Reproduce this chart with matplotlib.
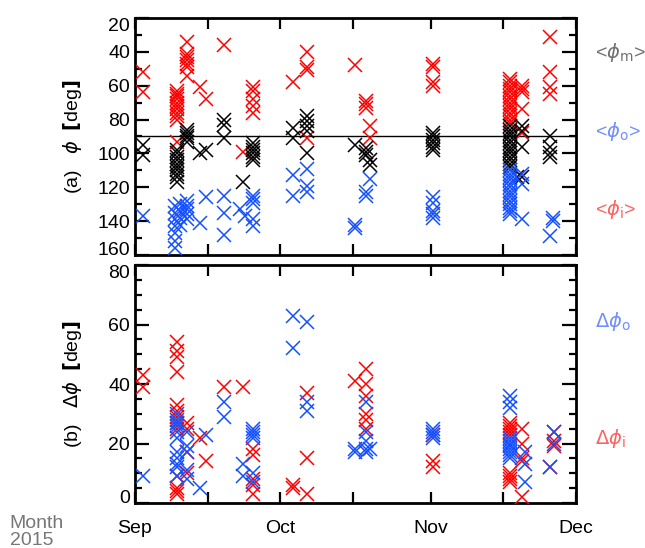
import matplotlib.pyplot as plt
import matplotlib.dates as mdates
from matplotlib.ticker import MultipleLocator
from datetime import datetime

plt.rcParams['font.family'] = ['Liberation Sans', 'DejaVu Sans']
plt.rcParams['mathtext.fontset'] = 'dejavusans'

# (days since 2015-09-01, values) per observation time
phi_i = [(1.6, [52, 64]),
         (8.7, [63, 65, 66, 68, 70, 72, 74, 76, 78, 80, 93]),
         (10.7, [34, 41, 43, 45, 47, 49, 54]),
         (13.4, [61]), (14.6, [68]), (18.4, [36]), (22.3, [99]),
         (24.4, [61, 63, 68, 72, 76]),
         (32.6, [58]), (35.5, [40, 49, 51, 91]), (45.4, [48]),
         (47.7, [69, 71, 73]), (48.5, [84, 91]),
         (61.5, [47, 49, 58, 60]),
         (77.4, [56, 58, 60, 62, 64, 66, 68, 70, 72, 74, 76, 78, 80, 82]),
         (79.9, [60, 62, 64, 74, 88]),
         (85.6, [31, 52, 61, 65])]

phi_m = [(1.6, [95, 101]),
         (8.7, [98, 100, 102, 104, 106, 108, 110, 112, 114, 117]),
         (10.7, [86, 88, 90, 91, 93]),
         (13.4, [100]), (14.6, [98]), (18.4, [80, 83, 91]), (22.3, [117]),
         (24.4, [94, 96, 98, 100, 102, 104]),
         (32.6, [85, 91]), (35.5, [78, 81, 84, 87, 100]), (45.4, [95]),
         (47.7, [97, 99, 101]), (48.5, [104, 107]),
         (61.5, [88, 90, 92, 94, 96, 98]),
         (77.4, [84, 86, 88, 90, 92, 94, 96, 98, 100, 102, 104, 106, 108]),
         (78.9, [114]),
         (79.9, [84, 87, 96, 114]),
         (85.6, [90, 96, 100, 102])]

phi_o = [(1.6, [137]),
         (8.3, [131, 135, 139, 143, 147, 152, 156]),
         (9.3, [130, 134, 138, 142]),
         (10.7, [128, 131, 133, 136, 139]),
         (13.4, [141]), (14.6, [126]), (18.4, [125, 135, 148]),
         (21.7, [133]), (22.7, [137]),
         (24.4, [125, 127, 129, 139, 143]),
         (32.6, [113, 125]), (35.5, [109, 119, 123]), (45.4, [142, 144]),
         (47.7, [123, 125]), (48.5, [115]),
         (61.5, [126, 129, 134, 136, 138]),
         (77.4, [110, 112, 114, 116, 118, 120, 122, 124, 126, 128, 130, 132, 134, 136]),
         (79.9, [112, 118, 139]),
         (85.6, [149]), (86.3, [138, 140])]

dphi_i = [(1.6, [43, 39]),
          (8.7, [54, 51, 49, 44, 33, 31, 29, 27, 25, 9, 5, 4, 3]),
          (10.7, [27, 25, 17, 10]),
          (13.4, [22]), (14.6, [14]), (18.4, [39]), (22.3, [39]),
          (24.4, [18, 16, 8, 6, 3]),
          (32.6, [6, 5]), (35.5, [37, 15, 3]), (45.4, [41]),
          (47.7, [45, 40, 36, 30, 28, 25]),
          (61.5, [23, 14, 12]),
          (77.4, [27, 26, 25, 24, 23, 10, 9, 8, 7]),
          (79.9, [25, 20, 15, 14, 2]),
          (85.6, [12]), (86.5, [24, 21, 19])]

dphi_o = [(1.6, [9]),
          (8.7, [30, 28, 27, 26, 24, 22, 17, 15, 13, 12, 9]),
          (10.7, [24, 19, 17, 11, 8]),
          (13.4, [5]), (14.6, [23]), (18.4, [34, 29]), (22.3, [13, 9]),
          (24.4, [25, 24, 23, 22, 10, 7]),
          (32.6, [63, 52]), (35.5, [61, 34, 31]), (45.4, [18, 17]),
          (47.7, [34, 24, 21, 18, 17]), (48.5, [18]),
          (61.5, [25, 24, 23, 22]),
          (77.4, [36, 34, 32, 22, 21, 20, 19, 18, 17, 16, 15]),
          (80.5, [17, 13, 7]),
          (85.6, [12]), (86.5, [24, 20])]

t0 = mdates.date2num(datetime(2015, 9, 1))
t1 = mdates.date2num(datetime(2015, 12, 1))

RED = '#ff0000'
BLUE = '#1450ff'


def expand(groups):
    x, y = [], []
    for d, vals in groups:
        x += [t0 + d] * len(vals)
        y += vals
    return x, y


def cross(ax, groups, color):
    x, y = expand(groups)
    ax.plot(x, y, 'x', ms=9.5, mew=1.1, color=color, zorder=3)


def style(ax, ymaj, ymin):
    ax.set_xlim(t0, t1)
    ax.xaxis.set_major_locator(mdates.MonthLocator())
    ax.xaxis.set_minor_locator(mdates.DayLocator(bymonthday=16))
    ax.xaxis.set_major_formatter(mdates.DateFormatter('%b'))
    ax.yaxis.set_major_locator(MultipleLocator(ymaj))
    ax.yaxis.set_minor_locator(MultipleLocator(ymin))
    ax.tick_params(which='both', direction='in', top=True, right=True,
                   width=1.6, labelsize=14)
    ax.tick_params(which='major', length=10)
    ax.tick_params(which='minor', length=5)
    ax.tick_params(axis='x', which='both', length=8, pad=12)
    for s in ax.spines.values():
        s.set_linewidth(2)


def pull_in_edge_labels(ax, top_val, bottom_val):
    # keep the end labels inside the panel so neighbouring panels don't clash
    for tick in ax.yaxis.get_major_ticks():
        if abs(tick.get_loc() - top_val) < 1e-6:
            tick.label1.set_va('center_baseline')
            tick.label1.set_va('top')
        elif abs(tick.get_loc() - bottom_val) < 1e-6:
            tick.label1.set_va('baseline')


fig = plt.figure(figsize=(6.45, 5.48), dpi=100)
ax1 = fig.add_axes([0.2093, 0.5347, 0.6837, 0.4325])
ax2 = fig.add_axes([0.2093, 0.0821, 0.6837, 0.4343])

# (a) mean angles
cross(ax1, phi_i, RED)
cross(ax1, phi_m, 'black')
cross(ax1, phi_o, BLUE)
ax1.axhline(90, color='black', lw=1, zorder=2)
style(ax1, 20, 10)
ax1.set_ylim(160, 20)
ax1.tick_params(axis='x', labelbottom=False)

# (b) angle spread
cross(ax2, dphi_i, RED)
cross(ax2, dphi_o, BLUE)
style(ax2, 20, 5)
ax2.set_ylim(0, 80)

fig.text(0.112, 0.751, r'(a)   $\phi$  $\mathbf{[}$deg$\mathbf{]}$', rotation=90,
         ha='center', va='center', fontsize=14)
fig.text(0.112, 0.299, r'(b)   $\Delta\phi$  $\mathbf{[}$deg$\mathbf{]}$', rotation=90,
         ha='center', va='center', fontsize=14)

fig.text(0.922, 0.905, r'<$\phi_{\rm m}$>', color='#707070', fontsize=14, va='center')
fig.text(0.922, 0.760, r'<$\phi_{\rm o}$>', color='#6f8fff', fontsize=14, va='center')
fig.text(0.922, 0.617, r'<$\phi_{\rm i}$>', color='#ff6060', fontsize=14, va='center')
fig.text(0.922, 0.413, r'$\Delta\phi_{\rm o}$', color='#6f8fff', fontsize=14, va='center')
fig.text(0.922, 0.200, r'$\Delta\phi_{\rm i}$', color='#ff6060', fontsize=14, va='center')

fig.text(0.015, 0.029, 'Month\n2015', color='#777777', fontsize=14,
         ha='left', va='center', linespacing=1.0)

fig.canvas.draw()
pull_in_edge_labels(ax1, 20, 160)
pull_in_edge_labels(ax2, 80, 0)

fig.savefig('out.png', dpi=100)
